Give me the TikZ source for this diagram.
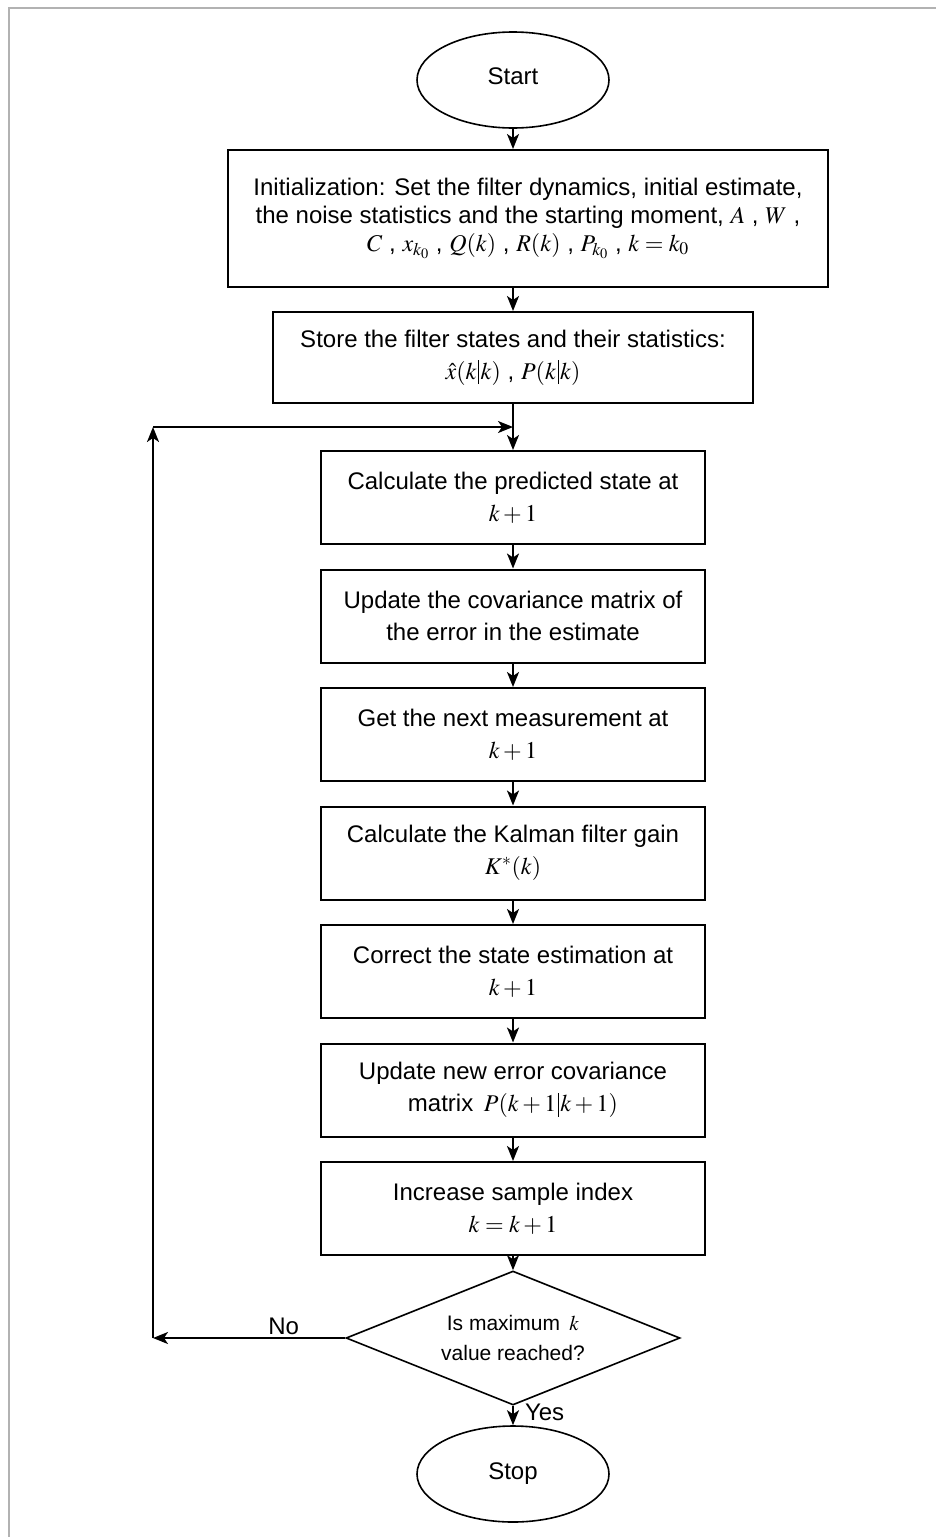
\documentclass[tikz,border=0pt]{standalone}
\usepackage{mathptmx}
\usepackage[no-math]{fontspec}
\setmainfont{Liberation Sans}
\usetikzlibrary{positioning,arrows.meta,shapes.geometric}
\definecolor{framegray}{RGB}{178,178,178}
\newcommand{\condbar}{\kern1.5pt\rule[-5pt]{1pt}{24pt}\kern1.5pt}
\tikzset{
  >={Stealth[length=15pt,width=12pt,inset=4pt]},
  node distance=23.5pt,
  procbox/.style={draw,line width=2pt,minimum width=384pt,minimum height=93pt,
    align=center,inner sep=4pt,font=\fontsize{24}{32}\selectfont},
  widebox/.style={procbox,minimum height=91pt},
  termnode/.style={draw,ellipse,line width=1.6pt,minimum width=192pt,
    minimum height=96pt,inner sep=0pt,font=\fontsize{24}{28}\selectfont},
  decbox/.style={draw,diamond,aspect=2.5,line width=1.6pt,minimum width=334pt,
    minimum height=134pt,inner sep=0pt,align=center,
    font=\fontsize{21}{30}\selectfont},
  flow/.style={->,line width=2pt},
  flowlbl/.style={font=\fontsize{24}{28}\selectfont,inner sep=2pt},
}

\begin{document}
\begin{tikzpicture}[x=1pt,y=-1pt]
  \useasboundingbox (0,0) rectangle (936,1537);
  \draw[framegray,line width=2.5pt] (9,1537) -- (9,8) -- (936,8);

  \node[termnode] (start) at (513,80) {\raisebox{8pt}{Start}};
  \node[widebox,minimum width=600pt,minimum height=137pt,
    font=\fontsize{24}{28}\selectfont] (init) at (528,218.5)
    {Initialization: Set the filter dynamics, initial estimate,\\
     the noise statistics and the starting moment, $A$ , $W$ ,\\
     $C$ , $x_{k_0}$ , $Q(k)$ , $R(k)$ , $P_{k_0}$ , $k=k_0$};
  \node[widebox,minimum width=480pt] (store) at (513,357.5)
    {Store the filter states and their statistics:\\
     $\hat{x}(k\condbar k)$ , $P(k\condbar k)$};

  \node[procbox] (calc) at (513,497.5) {Calculate the predicted state at\\ $k+1$};
  \node[procbox,below=of calc] (cov) {Update the covariance matrix of\\
    the error in the estimate};
  \node[procbox,below=of cov] (meas) {Get the next measurement at\\ $k+1$};
  \node[procbox,below=of meas] (gain) {Calculate the Kalman filter gain\\ $K^{*}(k)$};
  \node[procbox,below=of gain] (corr) {Correct the state estimation at\\ $k+1$};
  \node[procbox,below=of corr] (newcov) {Update new error covariance\\
    matrix\, $P(k+1\condbar k+1)$};
  \node[procbox,below=of newcov] (incr) {Increase sample index\\ $k=k+1$};

  \node[decbox] (dec) at (513,1338) {Is maximum\, $k$\\ value reached?};
  \node[termnode] (stop) at (513,1474) {Stop};

  \coordinate (join) at (513,427);
  \coordinate (lc1) at (153,1338);
  \coordinate (lc2) at (153,427);

  \draw[flow] (start.south) -- (start.south |- init.north);
  \draw[flow] (store.north |- init.south) -- (store.north);
  \draw[flow] (store.south) -- (calc.north);
  \draw[flow] (calc) -- (cov);
  \draw[flow] (cov) -- (meas);
  \draw[flow] (meas) -- (gain);
  \draw[flow] (gain) -- (corr);
  \draw[flow] (corr) -- (newcov);
  \draw[flow] (newcov) -- (incr);
  \draw[flow] (incr) -- (dec);
  \draw[flow] (dec) -- node[flowlbl,right,pos=0.35,xshift=9pt] {Yes} (stop);
  % back to the prediction step
  \draw[flow] (dec.west) -- node[flowlbl,above,pos=0.32] {No} (lc1);
  \draw[flow] (lc1) -- (lc2);
  \draw[flow] (lc2) -- (join);
\end{tikzpicture}
\end{document}
